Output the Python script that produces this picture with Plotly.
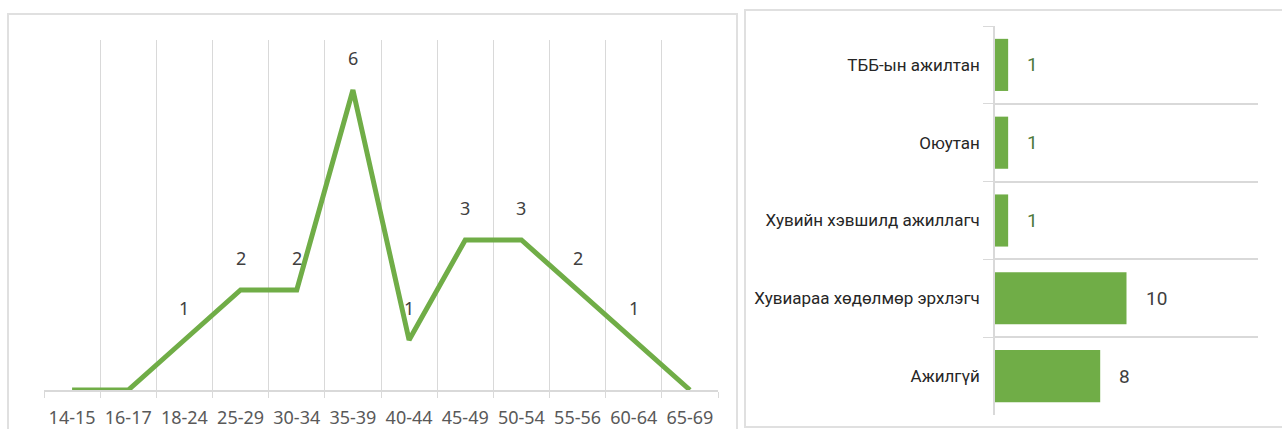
import plotly.graph_objects as go

# возрастные группы
age_groups = ["14-15", "16-17", "18-24", "25-29", "30-34", "35-39",
              "40-44", "45-49", "50-54", "55-56", "60-64", "65-69"]
age_counts = [0, 0, 1, 2, 2, 6, 1, 3, 3, 2, 1, 0]
age_labels = ["", "", "1", "2", "2", "6", "1", "3", "3", "2", "1", ""]

# занятость
occupations = ["ТББ-ын ажилтан", "Оюутан", "Хувийн хэвшилд ажиллагч",
               "Хувиараа хөдөлмөр эрхлэгч", "Ажилгүй"]
occ_counts = [1, 1, 1, 10, 8]
occ_label_colors = ["#4e7a3a", "#4e7a3a", "#4e7a3a", "#404040", "#404040"]

W, H = 1282, 429
GREEN = "#70ad47"
GRID = "#d9d9d9"
NARROW = "Roboto, Liberation Sans Narrow, sans-serif"

def px_x(p):
    return p / W

def px_y(p):
    return 1 - p / H

fig = go.Figure()

fig.add_trace(go.Scatter(
    x=age_groups, y=age_counts, mode="lines",
    line=dict(color=GREEN, width=5), xaxis="x", yaxis="y",
    showlegend=False, hoverinfo="skip"))

fig.add_trace(go.Bar(
    x=occ_counts, y=occupations, orientation="h", width=0.67,
    marker=dict(color=GREEN, line=dict(width=0)),
    xaxis="x2", yaxis="y2", showlegend=False))

annotations = []
for cat, val, lab in zip(age_groups, age_counts, age_labels):
    if lab:
        annotations.append(dict(
            x=cat, y=val, xref="x", yref="y", text=lab, showarrow=False,
            yshift=32, font=dict(family="Noto Sans", size=18, color="#404040")))
for cat, val, col in zip(occupations, occ_counts, occ_label_colors):
    annotations.append(dict(
        x=val, y=cat, xref="x2", yref="y2", text=str(val), showarrow=False,
        xanchor="left", xshift=17,
        font=dict(family=NARROW, size=19, color=col)))

# рамки панелей
shapes = [
    dict(type="rect", xref="paper", yref="paper",
         x0=px_x(8), x1=px_x(737), y0=px_y(440), y1=px_y(14),
         line=dict(color="#e0e0e0", width=2)),
    dict(type="rect", xref="paper", yref="paper",
         x0=px_x(745), x1=px_x(1290), y0=px_y(427), y1=px_y(10),
         line=dict(color="#e0e0e0", width=2)),
]

fig.update_layout(
    width=W, height=H,
    margin=dict(l=0, r=0, t=0, b=0),
    paper_bgcolor="white", plot_bgcolor="white",
    template="none",
    xaxis=dict(domain=[px_x(44), px_x(718)], type="category",
               range=[-0.5, len(age_groups) - 0.5],
               tickson="boundaries", showgrid=True, gridcolor=GRID, gridwidth=1,
               showline=True, linecolor=GRID, linewidth=1.5,
               ticks="outside", ticklen=6, tickcolor=GRID,
               ticklabelstandoff=11,
               tickfont=dict(family="Noto Sans", size=18, color="#595959"),
               automargin=False, zeroline=False, fixedrange=True),
    yaxis=dict(domain=[px_y(390), px_y(40)], range=[0, 7],
               showgrid=False, showticklabels=False, zeroline=False,
               automargin=False, fixedrange=True),
    xaxis2=dict(domain=[px_x(995), px_x(1258)], range=[0, 20], anchor="y2",
                showgrid=False, showticklabels=False, zeroline=False,
                automargin=False, fixedrange=True),
    yaxis2=dict(domain=[px_y(415), px_y(26)], anchor="x2", type="category",
                autorange="reversed", tickson="boundaries",
                showgrid=True, gridcolor=GRID, gridwidth=1.5,
                showline=True, linecolor=GRID, linewidth=1.5,
                ticks="outside", ticklen=10, tickcolor=GRID,
                ticklabelstandoff=10,
                tickfont=dict(family=NARROW, size=17, color="#262626"),
                automargin=False, zeroline=False, fixedrange=True),
    annotations=annotations,
    shapes=shapes,
)

fig.write_html("out.html", config={"displayModeBar": False},
               post_script="document.body.style.margin='0';")
